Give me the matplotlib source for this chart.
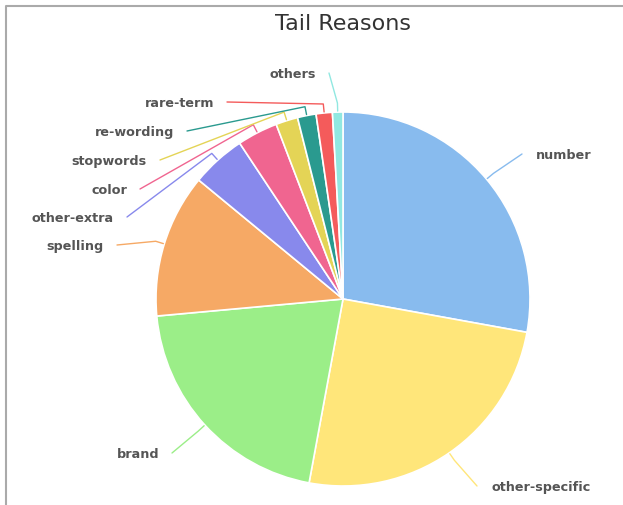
import numpy as np
import matplotlib
matplotlib.use("Agg")
import matplotlib.pyplot as plt

# slice data, clockwise from 12 o'clock (percent of all tail queries)
reasons = ["number", "other-specific", "brand", "spelling", "other-extra",
           "color", "stopwords", "re-wording", "rare-term", "others"]
shares = [27.8, 25.0, 20.6, 12.4, 4.7, 3.5, 1.9, 1.6, 1.4, 0.9]
colors = ["#88bbee", "#ffe67a", "#9bee88", "#f6a965", "#8889ec",
          "#f06590", "#e4d456", "#2a9a8f", "#f45b5b", "#91e8e1"]

# layout, in pixels (y grows downwards)
W, H = 623, 505
cx, cy, R = 343, 299, 187
# where each connector ends next to its label
label_xy = [(522, 154), (477, 486), (172, 453), (117, 245), (127, 217),
            (140, 189), (160, 160), (187, 131), (227, 102), (329, 73)]

fig = plt.figure(figsize=(W / 100, H / 100), dpi=100)
ax = fig.add_axes([0, 0, 1, 1])

# y axis is flipped, so start at -90 and go "counterclockwise" = clockwise on screen
ax.pie(shares, colors=colors, startangle=-90, counterclock=True,
       radius=R, center=(cx, cy), frame=False,
       wedgeprops=dict(edgecolor="white", linewidth=1.2))
ax.set_xlim(0, W)
ax.set_ylim(H, 0)
ax.set_aspect("auto")
ax.axis("off")

# connectors + labels
tot = sum(shares)
cum = np.cumsum([0] + shares[:-1])
for i, name in enumerate(reasons):
    phi = np.radians((cum[i] + shares[i] / 2) / tot * 360)
    p0 = (cx + (R + 1) * np.sin(phi), cy - (R + 1) * np.cos(phi))
    p1 = (cx + (R + 9) * np.sin(phi), cy - (R + 9) * np.cos(phi))
    lx, ly = label_xy[i]
    ax.plot([p0[0], p1[0], lx], [p0[1], p1[1], ly], color=colors[i],
            lw=1, solid_joinstyle="round", solid_capstyle="round")
    if lx > cx:
        ax.text(lx + 14, ly + 1.5, name, ha="left", va="center",
                fontsize=9.2, fontweight="bold", color="#555555")
    else:
        ax.text(lx - 13, ly + 1.5, name, ha="right", va="center",
                fontsize=9.2, fontweight="bold", color="#555555")

ax.text(343, 24, "Tail Reasons", ha="center", va="center",
        fontsize=16, color="#333333")

# frame of the screenshot (only left and top edges visible)
ax.plot([6, 6, W], [H, 6, 6], color="#aaaaaa", lw=1.5)

fig.savefig("out.png", dpi=100)
